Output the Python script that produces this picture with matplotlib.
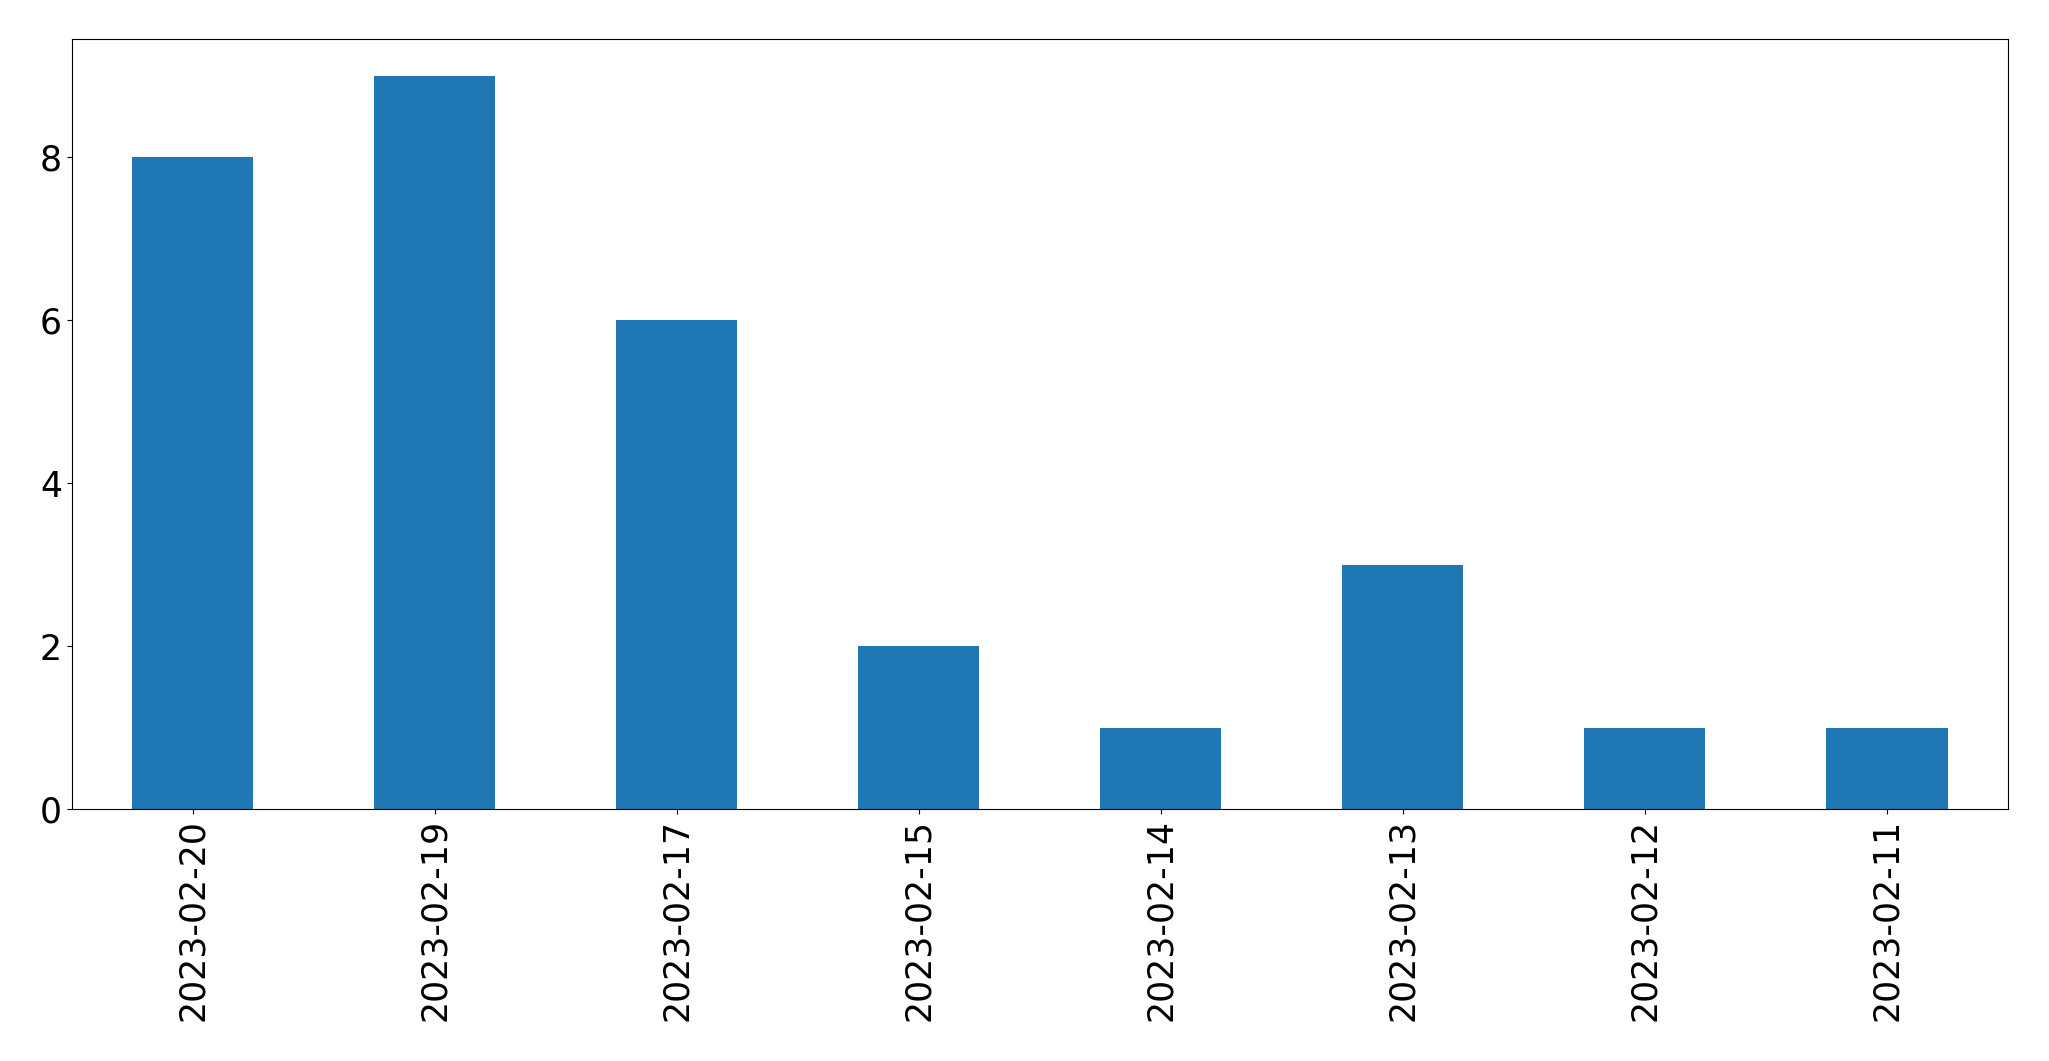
import matplotlib
matplotlib.use("Agg")
import matplotlib.pyplot as plt
import pandas as pd

dates = ['2023-02-20', '2023-02-19', '2023-02-17', '2023-02-15',
         '2023-02-14', '2023-02-13', '2023-02-12', '2023-02-11']
counts = [8, 9, 6, 2, 1, 3, 1, 1]

s = pd.Series(counts, index=dates)

fig = plt.figure(figsize=(20.49, 10.61), dpi=100)
ax = fig.add_axes([0.035, 0.2375, 0.945, 0.7255])
s.plot(kind='bar', ax=ax, color='#1f77b4', width=0.5)
ax.tick_params(axis='both', labelsize=25)
plt.setp(ax.get_xticklabels(), rotation=90)
fig.savefig('out.png', dpi=100)
